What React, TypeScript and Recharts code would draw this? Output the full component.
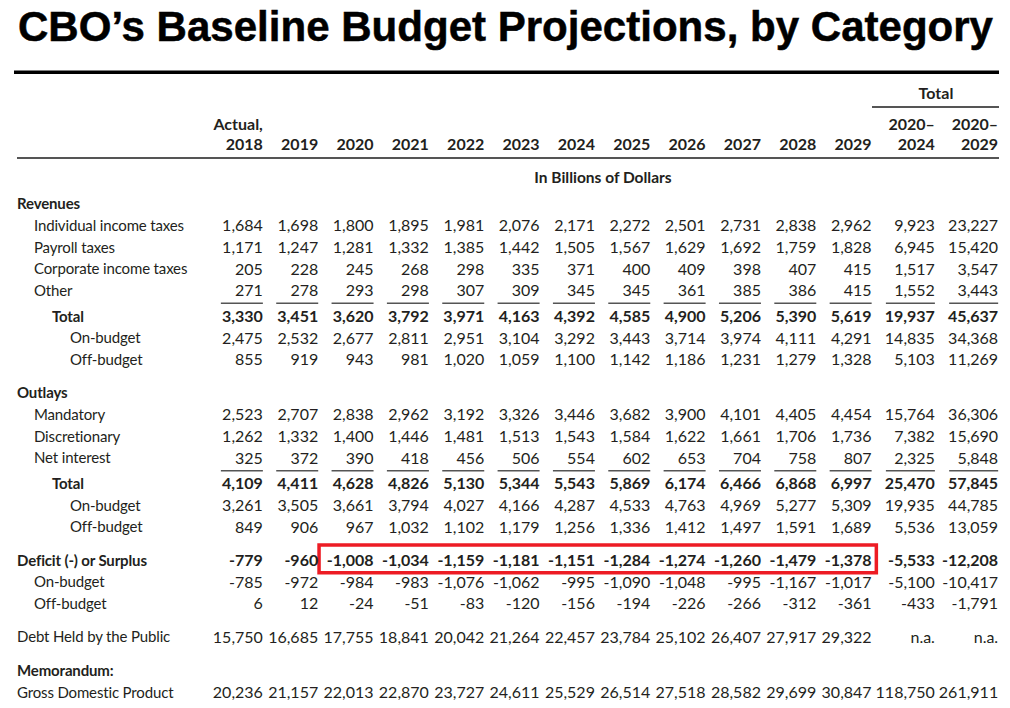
import React from "react";
import { ScatterChart, Scatter, XAxis, YAxis, ReferenceArea } from "recharts";

// column headers (tick labels)
const headerTop = ["Actual,", "", "", "", "", "", "", "", "", "", "", "", "2020–", "2020–"];
const headerBottom = [
  "2018", "2019", "2020", "2021", "2022", "2023", "2024",
  "2025", "2026", "2027", "2028", "2029", "2024", "2029",
];

// values in billions of dollars, 2018..2029, then 2020-2024 and 2020-2029 totals
const individualIncomeTaxes = [1684, 1698, 1800, 1895, 1981, 2076, 2171, 2272, 2501, 2731, 2838, 2962, 9923, 23227];
const payrollTaxes = [1171, 1247, 1281, 1332, 1385, 1442, 1505, 1567, 1629, 1692, 1759, 1828, 6945, 15420];
const corporateIncomeTaxes = [205, 228, 245, 268, 298, 335, 371, 400, 409, 398, 407, 415, 1517, 3547];
const otherRevenues = [271, 278, 293, 298, 307, 309, 345, 345, 361, 385, 386, 415, 1552, 3443];
const revenueTotal = [3330, 3451, 3620, 3792, 3971, 4163, 4392, 4585, 4900, 5206, 5390, 5619, 19937, 45637];
const revenueOnBudget = [2475, 2532, 2677, 2811, 2951, 3104, 3292, 3443, 3714, 3974, 4111, 4291, 14835, 34368];
const revenueOffBudget = [855, 919, 943, 981, 1020, 1059, 1100, 1142, 1186, 1231, 1279, 1328, 5103, 11269];

const mandatory = [2523, 2707, 2838, 2962, 3192, 3326, 3446, 3682, 3900, 4101, 4405, 4454, 15764, 36306];
const discretionary = [1262, 1332, 1400, 1446, 1481, 1513, 1543, 1584, 1622, 1661, 1706, 1736, 7382, 15690];
const netInterest = [325, 372, 390, 418, 456, 506, 554, 602, 653, 704, 758, 807, 2325, 5848];
const outlayTotal = [4109, 4411, 4628, 4826, 5130, 5344, 5543, 5869, 6174, 6466, 6868, 6997, 25470, 57845];
const outlayOnBudget = [3261, 3505, 3661, 3794, 4027, 4166, 4287, 4533, 4763, 4969, 5277, 5309, 19935, 44785];
const outlayOffBudget = [849, 906, 967, 1032, 1102, 1179, 1256, 1336, 1412, 1497, 1591, 1689, 5536, 13059];

const deficit = [-779, -960, -1008, -1034, -1159, -1181, -1151, -1284, -1274, -1260, -1479, -1378, -5533, -12208];
const deficitOnBudget = [-785, -972, -984, -983, -1076, -1062, -995, -1090, -1048, -995, -1167, -1017, -5100, -10417];
const deficitOffBudget = [6, 12, -24, -51, -83, -120, -156, -194, -226, -266, -312, -361, -433, -1791];

const debtHeld = [15750, 16685, 17755, 18841, 20042, 21264, 22457, 23784, 25102, 26407, 27917, 29322, null, null];
const gdp = [20236, 21157, 22013, 22870, 23727, 24611, 25529, 26514, 27518, 28582, 29699, 30847, 118750, 261911];

type Kind = "section" | "item" | "total" | "sub" | "deficit" | "deficitSub" | "plain";
type Row = { label: string; kind: Kind; values?: (number | null)[] };

const blocks: Row[][] = [
  [
    { label: "Revenues", kind: "section" },
    { label: "Individual income taxes", kind: "item", values: individualIncomeTaxes },
    { label: "Payroll taxes", kind: "item", values: payrollTaxes },
    { label: "Corporate income taxes", kind: "item", values: corporateIncomeTaxes },
    { label: "Other", kind: "item", values: otherRevenues },
    { label: "Total", kind: "total", values: revenueTotal },
    { label: "On-budget", kind: "sub", values: revenueOnBudget },
    { label: "Off-budget", kind: "sub", values: revenueOffBudget },
  ],
  [
    { label: "Outlays", kind: "section" },
    { label: "Mandatory", kind: "item", values: mandatory },
    { label: "Discretionary", kind: "item", values: discretionary },
    { label: "Net interest", kind: "item", values: netInterest },
    { label: "Total", kind: "total", values: outlayTotal },
    { label: "On-budget", kind: "sub", values: outlayOnBudget },
    { label: "Off-budget", kind: "sub", values: outlayOffBudget },
  ],
  [
    { label: "Deficit (-) or Surplus", kind: "deficit", values: deficit },
    { label: "On-budget", kind: "deficitSub", values: deficitOnBudget },
    { label: "Off-budget", kind: "deficitSub", values: deficitOffBudget },
  ],
  [{ label: "Debt Held by the Public", kind: "plain", values: debtHeld }],
  [
    { label: "Memorandum:", kind: "section" },
    { label: "Gross Domestic Product", kind: "plain", values: gdp },
  ],
];

const TEXT = "#231f20";
const FONT = "Lato, 'Open Sans', sans-serif";
const labelX: Record<Kind, number> = {
  section: 17, item: 34, total: 52, sub: 70, deficit: 17, deficitSub: 34, plain: 17,
};

// the two total columns sit a little wider apart than the year columns
const colX = (i: number) => (i < 12 ? i : 11 + (i - 11) * 1.143);
const colTicks = headerBottom.map((_, i) => colX(i));

// row positions in row units: block gap, extra room above totals
const rows = (() => {
  const out: (Row & { y: number })[] = [];
  let y = 0;
  blocks.forEach((block, bi) =>
    block.forEach((r, ri) => {
      if (bi > 0 && ri === 0) y += 1.55;
      else if (bi > 0 || ri > 0) y += r.kind === "total" ? 1.2 : 1;
      out.push({ ...r, y });
    })
  );
  return out;
})();

const fmt = (v: number | null) => (v == null ? "n.a." : v.toLocaleString("en-US"));

const cells = rows.flatMap((r) =>
  (r.values ?? []).map((v, i) => ({ x: colX(i), y: r.y, text: fmt(v), kind: r.kind, wide: i >= 12 }))
);

const deficitY = rows.find((r) => r.kind === "deficit")!.y;

const CellText = (p: any) => {
  const { cx, cy, payload } = p;
  const bold = payload.kind === "total" || payload.kind === "deficit";
  return (
    <g>
      {payload.kind === "total" && (
        <line x1={cx - (payload.wide ? 49 : 42)} x2={cx} y1={cy - 13} y2={cy - 13} stroke="#555" strokeWidth={1.6} />
      )}
      <text x={cx} y={cy} dy="0.36em" textAnchor="end" fontFamily={FONT} fontSize={16}
        fontWeight={bold ? 700 : 400} fill={TEXT}>
        {payload.text}
      </text>
    </g>
  );
};

const RowTick = (p: any) => {
  const row = rows.find((r) => Math.abs(r.y - p.payload.value) < 1e-6);
  if (!row) return null;
  const bold = row.kind === "section" || row.kind === "total" || row.kind === "deficit";
  return (
    <text x={labelX[row.kind]} y={p.y} dy="0.36em" fontFamily={FONT} fontSize={15} letterSpacing={-0.15}
      fontWeight={bold ? 700 : 400} fill={TEXT}>
      {row.label}
    </text>
  );
};

const HeadTick = (p: any) => {
  const i = colTicks.findIndex((v) => Math.abs(v - p.payload.value) < 1e-6);
  if (i < 0) return null;
  return (
    <g fontFamily={FONT} fontSize={16} fontWeight={700} fill={TEXT} textAnchor="end">
      <text x={p.x} y={130}>{headerTop[i]}</text>
      <text x={p.x} y={150}>{headerBottom[i]}</text>
    </g>
  );
};

export default function App() {
  return (
    <div style={{ position: "absolute", left: 0, top: 0, width: 1010, height: 708, background: "#fff" }}>
      <ScatterChart width={1010} height={708} margin={{ top: 0, right: 0, bottom: 0, left: 0 }}>
        <XAxis type="number" dataKey="x" orientation="top" mirror domain={[-4.75, 13.5]} allowDataOverflow
          ticks={colTicks} interval={0} tick={<HeadTick />} axisLine={false} tickLine={false} />
        <YAxis type="number" dataKey="y" mirror reversed domain={[-9.444, 23.333]} allowDataOverflow
          ticks={rows.map((r) => r.y)} interval={0} tick={<RowTick />} axisLine={false} tickLine={false} width={1} />
        <ReferenceArea x1={colX(2) - 0.985} x2={colX(11) + 0.085} y1={deficitY - 0.71} y2={deficitY + 0.57}
          fill="none" fillOpacity={0} stroke="#ed1c24" strokeWidth={3.5} ifOverflow="visible" />
        <Scatter data={cells} shape={CellText} isAnimationActive={false} />
      </ScatterChart>
      <svg width={1010} height={708} style={{ position: "absolute", left: 0, top: 0, pointerEvents: "none" }}>
        <g transform="translate(18,41) scale(1,1.04)">
          <text x={0} y={0} fontSize={41.5} fontWeight={700} fill="#000" stroke="#000" strokeWidth={0.5}
            fontFamily="'Liberation Sans', Arial, sans-serif"
            textLength={975} lengthAdjust="spacingAndGlyphs">
            CBO’s Baseline Budget Projections, by Category
          </text>
        </g>
        <rect x={14} y={70.5} width={985} height={3.5} fill="#000" />
        <text x={936} y={99} textAnchor="middle" fontFamily={FONT} fontSize={16} fontWeight={700} fill={TEXT}>Total</text>
        <rect x={872} y={106} width={127} height={2} fill="#555" />
        <rect x={17} y={157} width={982} height={2} fill="#555" />
        <text x={603} y={183} textAnchor="middle" fontFamily={FONT} fontSize={15.5} fontWeight={700} fill={TEXT}>
          In Billions of Dollars
        </text>
      </svg>
    </div>
  );
}
